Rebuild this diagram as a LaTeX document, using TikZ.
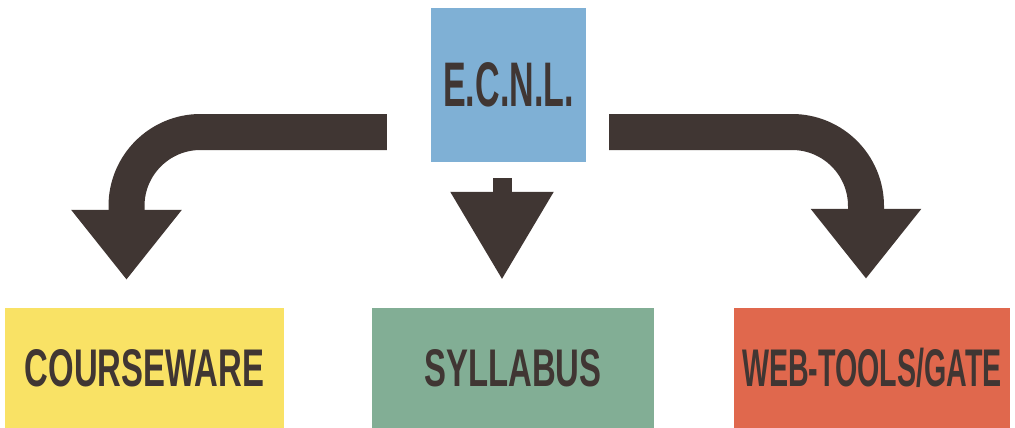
\documentclass[tikz,border=0pt]{standalone}
\usepackage{fontspec}
\usetikzlibrary{arrows.meta,calc}
\newfontfamily\wideface[FakeStretch=0.62]{Liberation Sans}
\newfontfamily\tightface[FakeStretch=0.54]{Liberation Sans}
\definecolor{ecnlblue}{HTML}{7FB0D5}
\definecolor{courseyellow}{HTML}{F9E265}
\definecolor{sylgreen}{HTML}{82AE95}
\definecolor{webred}{HTML}{E0684D}
\definecolor{arrowdark}{HTML}{403633}
\tikzset{
  box/.style={inner sep=0pt,text=arrowdark,font=\wideface\bfseries\fontsize{53}{60}\selectfont},
  bigarrow/.style={arrowdark,line width=36pt,rounded corners=74pt,
    -{Triangle[width=106pt,length=70pt]}}
}
\begin{document}
\begin{tikzpicture}[x=1pt,y=-1pt]
\useasboundingbox (0,0) rectangle (1015,428);
\node[box,fill=ecnlblue,minimum width=155pt,minimum height=154pt,
  font=\tightface\bfseries\fontsize{63}{70}\selectfont] (ecnl) at (508.5,85) {E.C.N.L.};
\node[box,fill=courseyellow,minimum width=279pt,minimum height=120pt] (course) at (144.5,368) {COURSEWARE};
\node[box,fill=sylgreen,minimum width=282pt,minimum height=120pt] (syl) at (513,368) {SYLLABUS};
\node[box,fill=webred,minimum width=276pt,minimum height=120pt,
  font=\tightface\bfseries\fontsize{53}{60}\selectfont] (web) at (872,368) {WEB-TOOLS/GATE};
%%%%
\coordinate (ltip) at ($(course.north)+(-18,-28)$);
\coordinate (rtip) at ($(web.north)+(-6,-29)$);
\draw[bigarrow] ($(ecnl.west)+(-44,47)$) -| (ltip);
\draw[bigarrow] ($(ecnl.east)+(23,47)$) -| (rtip);
\draw[arrowdark,line width=19pt,-{Triangle[width=98pt,length=88pt]}]
  ($(ecnl.south)+(-6.5,16)$) -- ($(syl.north)+(-11,-28)$);
\end{tikzpicture}
\end{document}
